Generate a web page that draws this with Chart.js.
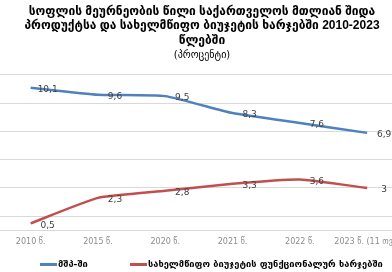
<!DOCTYPE html>
<html><head><meta charset="utf-8">
<script src="https://cdn.jsdelivr.net/npm/chart.js@4.4.1/dist/chart.umd.min.js"></script>
<style>
html,body{margin:0;padding:0;background:#fff;overflow:hidden;width:392px;height:272px;position:relative}
#wrap{position:absolute;left:-3px;top:0;width:410px;height:272px}
.lg-line{position:absolute;height:3px}
.lg-text{position:absolute;font-family:'DejaVu Sans',sans-serif;font-weight:bold;font-size:9.3px;color:#000;white-space:nowrap;line-height:10px}
</style></head>
<body><div id="wrap"><canvas id="c" width="410" height="272"></canvas></div>
<div id="legend"></div>
<script>
const categories = ["2010 წ.", "2015 წ.", "2020 წ.", "2021 წ.", "2022 წ.", "2023 წ. (11 თვე)"];
const gdpShare = [10.1, 9.6, 9.5, 8.3, 7.6, 6.9];
const budgetShare = [0.5, 2.3, 2.8, 3.3, 3.6, 3];
const seriesNames = ["მშპ-ში", "სახელმწიფო ბიუჯეტის ფუნქციონალურ ხარჯებში"];
const seriesColors = ["#4F81BD", "#C0504D"];
const yTicks = [0, 1, 3, 5, 7, 9, 11];
const titleLines = ["სოფლის მეურნეობის წილი საქართველოს მთლიან შიდა", "პროდუქტსა და სახელმწიფო ბიუჯეტის ხარჯებში 2010-2023", "წლებში"];
const subtitleText = "(პროცენტი)";

Chart.defaults.font.family = "'DejaVu Sans', sans-serif";

const valueLabels = {
  id: 'valueLabels',
  afterDatasetsDraw(chart) {
    const ctx = chart.ctx;
    ctx.save();
    ctx.font = "9px 'DejaVu Sans', sans-serif";
    ctx.fillStyle = '#404040';
    ctx.textAlign = 'center';
    ctx.textBaseline = 'middle';
    chart.data.datasets.forEach((ds, i) => {
      chart.getDatasetMeta(i).data.forEach((pt, j) => {
        ctx.fillText(String(ds.data[j]).replace('.', ','), pt.x + 17, pt.y + 2);
      });
    });
    ctx.restore();
  }
};

// HTML legend (real text)
const legendPos = [{ line: 40, text: 58 }, { line: 130, text: 148 }];
const lg = document.getElementById('legend');
seriesNames.forEach((name, i) => {
  const l = document.createElement('div');
  l.className = 'lg-line';
  l.style.left = legendPos[i].line + 'px';
  l.style.top = '263px';
  l.style.width = '17px';
  l.style.background = seriesColors[i];
  lg.appendChild(l);
  const t = document.createElement('div');
  t.className = 'lg-text';
  t.style.left = legendPos[i].text + 'px';
  t.style.top = '259px';
  t.textContent = name;
  lg.appendChild(t);
});

new Chart(document.getElementById('c'), {
  type: 'line',
  data: {
    labels: categories,
    datasets: [
      { label: seriesNames[0], data: gdpShare, borderColor: seriesColors[0], backgroundColor: seriesColors[0], borderWidth: 2.5, pointRadius: 0, tension: 0.15, fill: false },
      { label: seriesNames[1], data: budgetShare, borderColor: seriesColors[1], backgroundColor: seriesColors[1], borderWidth: 2.5, pointRadius: 0, tension: 0.15, fill: false }
    ]
  },
  options: {
    responsive: false,
    animation: false,
    layout: { padding: { top: 0, left: 0, right: 0, bottom: 18 } },
    scales: {
      x: {
        offset: true,
        grid: { display: false, drawTicks: false },
        border: { display: true, color: '#d9d9d9' },
        ticks: { color: '#8c8c8c', font: { size: 8 }, maxRotation: 0, autoSkip: false, padding: 7 }
      },
      y: {
        min: 0, max: 11,
        afterBuildTicks: (s) => { s.ticks = yTicks.map(v => ({ value: v })); },
        grid: { color: '#d9d9d9', drawTicks: false },
        border: { display: false },
        ticks: { display: false }
      }
    },
    plugins: {
      title: { display: true, text: titleLines, font: { family: "'Liberation Sans', 'DejaVu Sans', sans-serif", size: 12, weight: 'bold', lineHeight: 1.22 }, color: '#000', padding: { top: 4, bottom: 0 } },
      subtitle: { display: true, text: subtitleText, font: { size: 10, lineHeight: 1.2 }, color: '#000', padding: { top: 1, bottom: 14 } },
      legend: { display: false },
      tooltip: { enabled: false }
    }
  },
  plugins: [valueLabels]
});
</script></body></html>
